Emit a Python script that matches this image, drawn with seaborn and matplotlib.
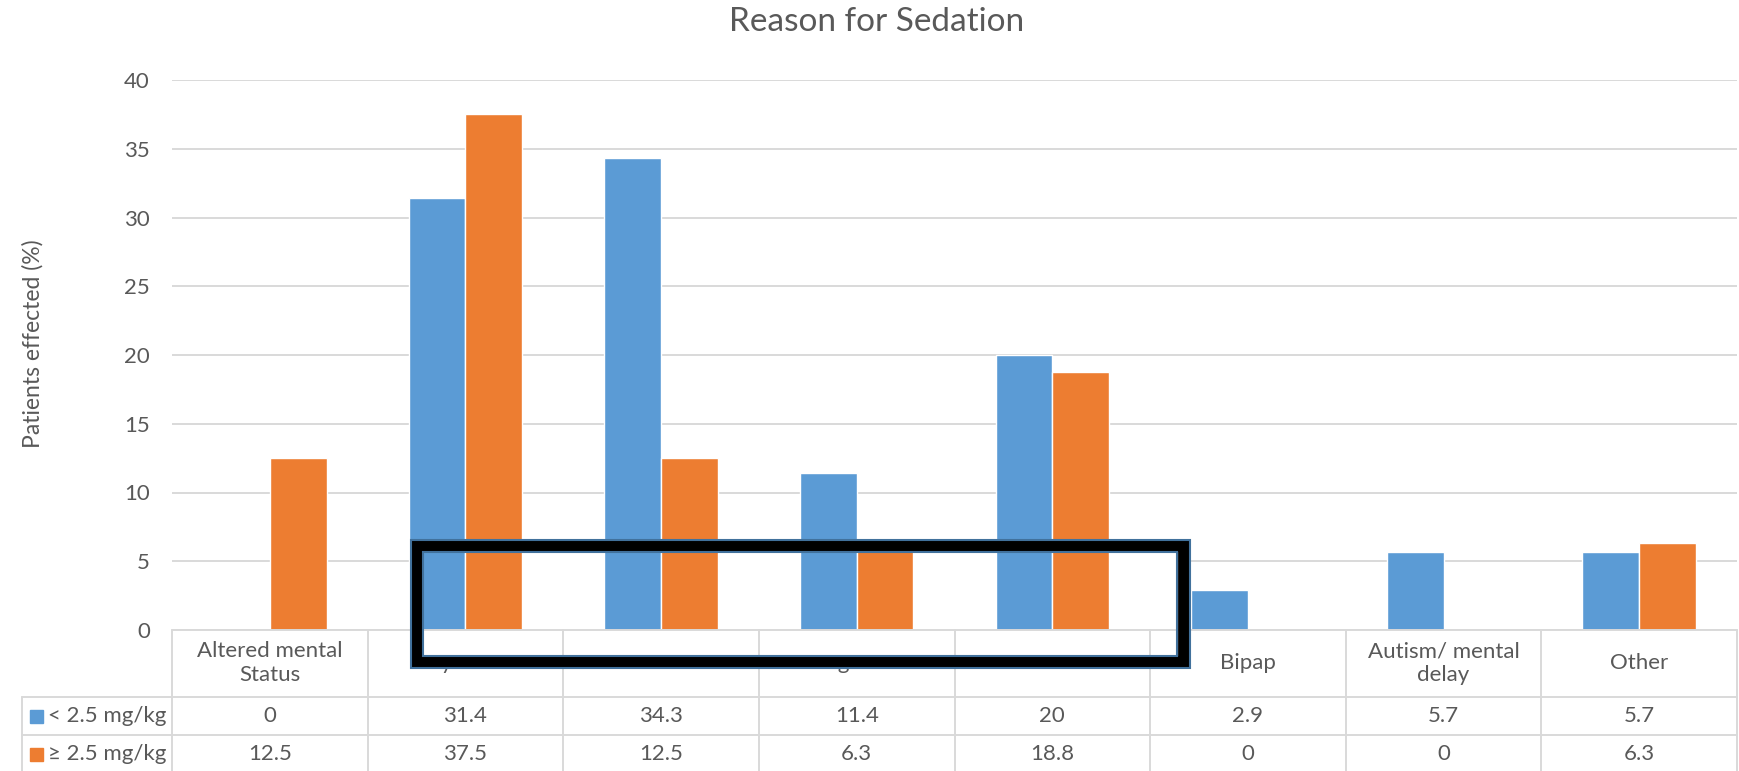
import matplotlib
matplotlib.use("Agg")
import matplotlib.pyplot as plt
import pandas as pd
import seaborn as sns
from matplotlib.patches import Rectangle
from matplotlib.lines import Line2D

# data
categories = ["Altered mental\nStatus", "Psychosis", "EtOH Intoxication", "Drug abuse",
              "Trauma", "Bipap", "Autism/ mental\ndelay", "Other"]
low_dose = [0, 31.4, 34.3, 11.4, 20, 2.9, 5.7, 5.7]
high_dose = [12.5, 37.5, 12.5, 6.3, 18.8, 0, 0, 6.3]
series_names = ["< 2.5 mg/kg", "\u2265 2.5 mg/kg"]
colors = ["#5B9BD5", "#ED7D31"]

df = pd.DataFrame({
    "reason": categories * 2,
    "value": low_dose + high_dose,
    "dose": [series_names[0]] * 8 + [series_names[1]] * 8,
})

sns.set_style("white")
plt.rcParams["font.family"] = ["Lato", "DejaVu Sans"]
txt = "#595959"
grid = "#D9D9D9"

W, H = 1739, 771
fig = plt.figure(figsize=(W / 100, H / 100), dpi=100)

def fx(x):
    return x / W

def fy(y):
    return 1 - y / H

left, right, y0, y40 = 172, 1737, 630, 80
ax = fig.add_axes([fx(left), fy(y0), fx(right) - fx(left), fy(y40) - fy(y0)])

sns.barplot(data=df, x="reason", y="value", hue="dose", palette=colors,
            width=0.58, saturation=1, legend=False, ax=ax, zorder=2)

ax.set_ylim(0, 40)
ax.set_yticks(range(0, 41, 5))
ax.yaxis.grid(True, color=grid, linewidth=1.4)
ax.set_axisbelow(True)
for s in ax.spines.values():
    s.set_visible(False)
ax.set_xlabel("")
ax.set_ylabel("")
ax.set_xticks([])
ax.tick_params(axis="y", length=0, labelsize=16, labelcolor=txt, pad=16)

fig.text(fx(877), fy(31), "Reason for Sedation", ha="center", va="baseline",
         fontsize=24, color=txt)
fig.text(fx(33), fy(344), "Patients effected (%)", rotation=90, ha="center",
         va="center", fontsize=16.5, color=txt)

# data table under the axis
cell = (right - left) / len(categories)
rows = [697, 735, 772]
for i, cat in enumerate(categories):
    cx = left + (i + 0.5) * cell
    fig.text(fx(cx), fy(663), cat, ha="center", va="center", fontsize=16,
             color=txt, linespacing=1.2, zorder=-1)
    fig.text(fx(cx), fy(716), f"{low_dose[i]:g}", ha="center", va="center",
             fontsize=16, color=txt)
    fig.text(fx(cx), fy(754), f"{high_dose[i]:g}", ha="center", va="center",
             fontsize=16, color=txt)

for j, (name, c) in enumerate(zip(series_names, colors)):
    yc = 716 + j * 38
    fig.add_artist(Rectangle((fx(30), fy(yc + 7)), fx(13), 13 / H, color=c))
    fig.text(fx(48), fy(yc), name, ha="left", va="center", fontsize=16, color=txt)

lines = [((left, right), (y0, y0))]
for yy in rows[:2]:
    lines.append(((22, right), (yy, yy)))
for k in range(len(categories) + 1):
    xx = left + k * cell
    lines.append(((xx, xx), (y0, H)))
lines.append(((22, 22), (rows[0], H)))
for xs, ys in lines:
    fig.add_artist(Line2D([fx(v) for v in xs], [fy(v) for v in ys], color=grid,
                          linewidth=1.4, zorder=1))

# the black highlight frame drawn over the chart
ax.add_patch(Rectangle((fx(423), fy(656)), fx(1177) - fx(423), (656 - 552) / H,
                       transform=fig.transFigure, facecolor="white",
                       edgecolor="none", clip_on=False, zorder=1.5))
fig.add_artist(Rectangle((fx(417), fy(662)), fx(1184) - fx(417), (662 - 546) / H,
                         facecolor="none", edgecolor="black", linewidth=8.5,
                         zorder=2))
for (a, b, c, d) in [(411, 540, 1190, 668), (423, 552, 1177, 656)]:
    fig.add_artist(Rectangle((fx(a), fy(d)), fx(c) - fx(a), (d - b) / H,
                             facecolor="none", edgecolor="#41719C",
                             linewidth=1.5, zorder=3))

fig.savefig("out.png", dpi=100)
